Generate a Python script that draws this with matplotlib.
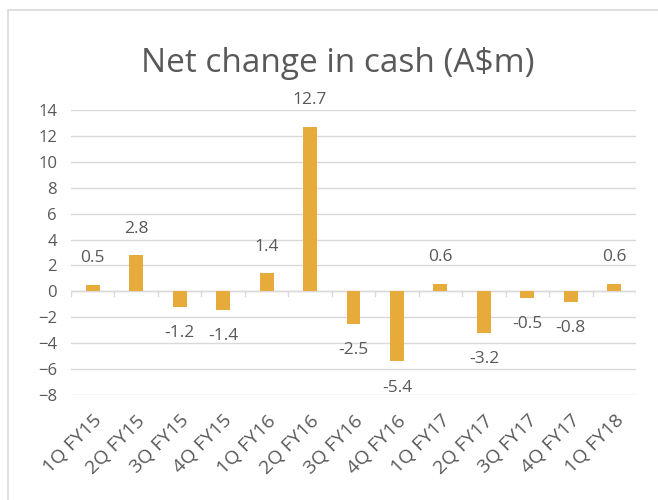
import matplotlib
matplotlib.use('Agg')
import matplotlib.pyplot as plt
from matplotlib.patches import Rectangle
import numpy as np

quarters = ['1Q FY15', '2Q FY15', '3Q FY15', '4Q FY15', '1Q FY16', '2Q FY16', '3Q FY16',
            '4Q FY16', '1Q FY17', '2Q FY17', '3Q FY17', '4Q FY17', '1Q FY18']
net_change = [0.5, 2.8, -1.2, -1.4, 1.4, 12.7, -2.5, -5.4, 0.6, -3.2, -0.5, -0.8, 0.6]
y_ticks = list(range(-8, 15, 2))

plt.rcParams['font.family'] = ['Open Sans', 'DejaVu Sans']
text_col = '#595959'
bar_col = '#E7AB3B'

fig = plt.figure(figsize=(6.58, 5.0), dpi=100)
# chart border, cut off on the right and bottom like the screenshot
fig.patches.append(Rectangle((8 / 658, -0.05), 1.1, 0.05 + 490 / 500, transform=fig.transFigure,
                             fill=False, edgecolor='#d9d9d9', linewidth=1.2))
ax = fig.add_axes([71 / 658, 1 - 395 / 500, 565 / 658, 285 / 500])

x = np.arange(len(quarters))
ax.bar(x, net_change, width=0.32, color=bar_col, zorder=3)

for xi, v in zip(x, net_change):
    off = 19 if v >= 0 else -19
    ax.annotate(f'{v}', (xi, v), xytext=(0, off), textcoords='offset points',
                ha='center', va='center', fontsize=12.5, color=text_col)

ax.set_xlim(-0.5, len(quarters) - 0.5)
ax.set_ylim(-8, 14)
ax.set_yticks(y_ticks)
ax.tick_params(axis='y', length=0, labelsize=12, labelcolor=text_col, pad=10)
ax.yaxis.grid(True, color='#d9d9d9', linewidth=1, zorder=0)
for s in ax.spines.values():
    s.set_visible(False)

# zero line with category boundary ticks
ax.axhline(0, color='#d9d9d9', linewidth=1, zorder=2)
for b in np.arange(-0.5, len(quarters), 1.0):
    ax.plot([b, b], [0, -0.35], color='#d9d9d9', linewidth=1, zorder=2)

ax.set_xticks(x)
ax.set_xticklabels(quarters, rotation=45, ha='right', rotation_mode='anchor',
                   fontsize=14, color=text_col)
ax.tick_params(axis='x', length=0, pad=12)

fig.text(338 / 658, 0.872, 'Net change in cash (A$m)', ha='center', va='center',
         fontsize=24, color=text_col)

fig.savefig('out.png', dpi=100)
